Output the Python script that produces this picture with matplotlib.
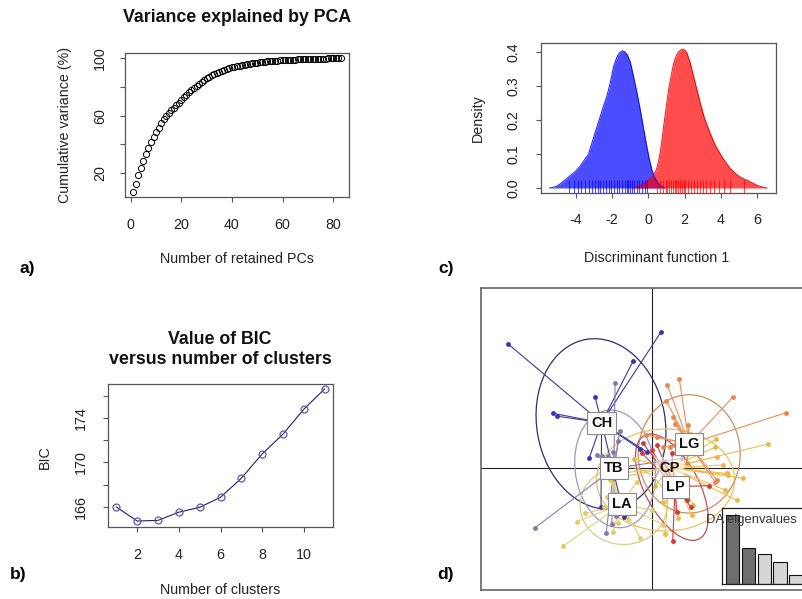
import numpy as np
import matplotlib
matplotlib.use('Agg')
import matplotlib.pyplot as plt
from matplotlib.patches import Ellipse

plt.rcParams['font.family'] = ['Liberation Sans', 'DejaVu Sans']
plt.rcParams['axes.unicode_minus'] = False

W, H = 802, 599

# ---------------- data ----------------
# a) cumulative variance explained by retained PCs
pca_cumvar = [7.1, 12.7, 18.5, 23.8, 28.6, 33.2, 37.6, 41.4, 44.9, 48.4,
              51.6, 54.6, 57.5, 60.0, 61.9, 63.8, 65.6, 67.4, 69.2, 71.0,
              72.9, 74.7, 76.4, 78.0, 79.5, 80.9, 82.3, 83.6, 84.9, 86.1,
              87.2, 88.2, 89.1, 89.9, 90.7, 91.4, 92.0, 92.6, 93.2, 93.7,
              94.1, 94.5, 94.9, 95.2, 95.5, 95.8, 96.1, 96.4, 96.7, 97.0,
              97.2, 97.4, 97.6, 97.8, 97.95, 98.1, 98.25, 98.4, 98.5, 98.6,
              98.7, 98.8, 98.9, 99.0, 99.1, 99.2, 99.3, 99.4, 99.45, 99.5,
              99.55, 99.6, 99.65, 99.7, 99.75, 99.8, 99.84, 99.88, 99.91, 99.94,
              99.96, 99.98, 100.0]
pca_n = list(range(1, len(pca_cumvar) + 1))

# b) BIC versus number of clusters
bic_k = [1, 2, 3, 4, 5, 6, 7, 8, 9, 10, 11]
bic_vals = [165.97, 164.7, 164.76, 165.5, 165.94, 166.85, 168.57, 170.77,
            172.56, 174.82, 176.66]

# c) density of discriminant function 1
blue_x = [-5.45, -5.1, -4.85, -4.6, -4.3, -4.0, -3.76, -3.5, -3.3, -3.1, -2.9,
          -2.66, -2.45, -2.29, -2.1, -1.92, -1.75, -1.6, -1.45, -1.3, -1.15,
          -1.0, -0.85, -0.65, -0.45, -0.25, -0.08, 0.05, 0.2, 0.35, 0.5, 0.7, 0.9]
blue_d = [0.0, 0.004, 0.013, 0.024, 0.037, 0.05, 0.065, 0.085, 0.10, 0.135, 0.17,
          0.21, 0.245, 0.27, 0.31, 0.357, 0.383, 0.397, 0.403, 0.400, 0.39,
          0.37, 0.335, 0.285, 0.23, 0.17, 0.12, 0.085, 0.052, 0.03, 0.016, 0.006, 0.0]
red_x = [-0.85, -0.55, -0.26, 0.0, 0.29, 0.45, 0.57, 0.7, 0.84, 0.98, 1.12, 1.26,
         1.4, 1.55, 1.67, 1.8, 1.91, 2.02, 2.13, 2.3, 2.5, 2.7, 2.87, 3.1, 3.42,
         3.7, 3.97, 4.25, 4.53, 4.8, 5.08, 5.3, 5.45, 5.7, 6.0, 6.3, 6.55]
red_d = [0.0, 0.005, 0.013, 0.022, 0.037, 0.055, 0.08, 0.12, 0.18, 0.235, 0.29, 0.33,
         0.367, 0.39, 0.40, 0.406, 0.408, 0.404, 0.396, 0.37, 0.327, 0.285, 0.249,
         0.205, 0.16, 0.125, 0.10, 0.077, 0.057, 0.043, 0.032, 0.026, 0.023, 0.016,
         0.008, 0.003, 0.0]
blue_rug = [-4.37, -4.1, -3.9, -3.7, -3.5, -3.3, -3.1, -2.95, -2.8, -2.65, -2.5,
            -2.35, -2.2, -2.05, -1.9, -1.75, -1.6, -1.45, -1.3, -1.2, -1.1, -1.0,
            -0.9, -0.78, -0.65, -0.5, -0.35, -0.2, -0.05]
red_rug = [0.5, 0.65, 0.8, 0.95, 1.05, 1.15, 1.25, 1.35, 1.45, 1.55, 1.65, 1.75,
           1.85, 1.95, 2.05, 2.2, 2.35, 2.5, 2.7, 2.85, 3.0, 3.2, 3.4, 3.6, 3.9,
           4.2, 4.5, 5.3]

# d) DAPC scatter: group points, centroids, ellipses
ch_x = [-4.79, 0.29, -0.63, -1.90, -3.29, -3.18, -2.09, -1.70, -0.40, -0.18, -0.92]
ch_y = [4.13, 4.52, 3.56, 2.38, 1.82, 1.73, 0.34, -1.29, 0.63, 0.54, -1.62]
tb_x = [-1.23, -1.07, -1.12, -1.84, -1.68, -1.46, -1.29, -3.90, -1.53, -1.34, 1.00, -1.20]
tb_y = [2.84, 1.24, 0.90, 0.43, 0.40, 0.40, 0.54, -1.99, -2.18, -1.88, 0.32, -1.60]
la_x = [-2.96, -2.51, -2.23, -0.40, -1.31, -1.12, -1.51, -0.51, 0.38, -0.01, -1.40,
        -1.29, -0.80, -1.60]
la_y = [-2.60, -1.79, -1.51, -2.32, -2.12, -1.83, -0.96, -0.46, -1.90, -1.40, -0.40,
        -0.51, -1.70, -1.30]
cp_x = [2.13, 2.10, 3.88, 2.49, 3.04, 2.82, 2.38, 2.16, 2.54, 1.38, 0.88, 1.32, 0.43,
        0.38, 2.43, -1.30, -0.60, -1.00, 0.10, 1.00]
cp_y = [0.96, 0.69, 0.80, -0.18, -0.34, -1.07, 0.10, 0.38, -0.23, -1.23, -1.68, -1.57,
        -2.21, -1.12, -0.73, -0.20, 0.30, -0.30, -0.60, -0.90]
lg_x = [0.51, 0.91, 2.71, 4.46, 0.47, 0.69, 0.77, 1.21, -0.20, 0.16, 0.60, 0.77, 2.16,
        2.10, 1.49, 1.16, 0.38]
lg_y = [2.77, 2.96, 2.38, 1.84, 2.24, 1.69, 1.47, 1.43, 1.10, 1.04, 0.71, 0.77, -0.40,
        -0.46, 0.49, 0.16, 0.71]
lp_x = [1.91, 1.16, 0.82, 0.69, -0.29, -0.33, -0.01, 0.66, 0.16, 1.30, 0.40]
lp_y = [-0.59, -1.07, -1.46, -2.43, 0.82, 0.49, 0.60, 0.49, 0.77, -1.30, 0.20]

group_names = ['CH', 'TB', 'LA', 'CP', 'LG', 'LP']
centroid_x = [-1.68, -1.27, -1.01, 0.60, 1.24, 0.77]
centroid_y = [1.51, -0.01, -1.20, 0.01, 0.80, -0.62]
ell_cx = [-1.70, -1.23, -0.95, 0.45, 1.24, 0.66]
ell_cy = [1.47, -0.03, -1.25, -0.40, 0.47, -0.64]
ell_w = [4.28, 2.66, 2.90, 4.60, 3.40, 3.90]
ell_h = [5.72, 3.94, 2.60, 3.40, 3.94, 1.80]
ell_ang = [10, 8, 0, 0, 0, -62]

da_eigen = [69, 36, 30, 22, 9]

# ---------------- styling ----------------
point_cols = ['#3636b0', '#8878a8', '#e0cc6a', '#f0b83a', '#e8884a', '#d03a3a']
line_cols = ['#3a3a98', '#8a80aa', '#e2d07a', '#f0be50', '#e89058', '#c83c3c']
ell_cols = ['#2e2e70', '#a098bc', '#d8cc90', '#e8c264', '#c8905e', '#c05050']
group_x = [ch_x, tb_x, la_x, cp_x, lg_x, lp_x]
group_y = [ch_y, tb_y, la_y, cp_y, lg_y, lp_y]

fig = plt.figure(figsize=(W / 100, H / 100), dpi=100)


def box(l, t, r, b):
    return [l / W, 1 - b / H, (r - l) / W, (b - t) / H]


def style(ax, xpad, ypad):
    for s in ax.spines.values():
        s.set_color('#555555')
        s.set_linewidth(0.9)
    ax.tick_params(direction='out', length=3.6, width=0.8, color='#555555',
                   labelsize=10.3, labelcolor='#222222')
    ax.tick_params(axis='x', pad=xpad)
    ax.tick_params(axis='y', pad=ypad, labelrotation=90)
    plt.setp(ax.get_yticklabels(), va='center')


TXT = '#222222'
TITLE_FS = 12.8

# ---- a)
ax_a = fig.add_axes(box(125, 53, 349, 197))
ax_a.plot(pca_n, pca_cumvar, 'o', mfc='none', mec='black', ms=4.4, mew=0.7)
ax_a.set_xlim(-2.28, 86.28)
ax_a.set_ylim(3.4, 103.7)
ax_a.set_xticks([0, 20, 40, 60, 80])
ax_a.set_yticks([20, 40, 60, 80, 100])
ax_a.set_yticklabels(['20', '', '60', '', '100'])
style(ax_a, 11.5, 9.5)
fig.text(237 / W, 1 - 18 / H, 'Variance explained by PCA', ha='center', va='center',
         fontsize=TITLE_FS, weight='bold', color='#111111')
fig.text(237 / W, 1 - 259 / H, 'Number of retained PCs', ha='center', va='center',
         fontsize=10.3, color=TXT)
fig.text(65 / W, 1 - 125 / H, 'Cumulative variance (%)', ha='center', va='center',
         rotation=90, fontsize=10.3, color=TXT)
fig.text(27 / W, 1 - 268 / H, 'a)', ha='center', va='center', fontsize=12.5,
         weight='bold', color='black')

# ---- b)
ax_b = fig.add_axes(box(108, 384, 333, 527))
ax_b.plot(bic_k, bic_vals, '-', color='#1f1f66', lw=0.8)
ax_b.plot(bic_k, bic_vals, 'o', mfc='none', mec='#5a5aa8', ms=5, mew=0.9)
ax_b.set_xlim(0.6, 11.4)
ax_b.set_ylim(164.16, 177.1)
ax_b.set_xticks([2, 4, 6, 8, 10])
ax_b.set_yticks([166, 168, 170, 172, 174, 176])
ax_b.set_yticklabels(['166', '', '170', '', '174', ''])
style(ax_b, 11.5, 11)
fig.text(220 / W, 1 - 339 / H, 'Value of BIC', ha='center', va='center',
         fontsize=TITLE_FS, weight='bold', color='#111111')
fig.text(220 / W, 1 - 360 / H, 'versus number of clusters', ha='center', va='center',
         fontsize=TITLE_FS, weight='bold', color='#111111')
fig.text(220 / W, 1 - 590 / H, 'Number of clusters', ha='center', va='center',
         fontsize=10.3, color=TXT)
fig.text(45 / W, 1 - 457 / H, 'BIC', ha='center', va='center', rotation=90,
         fontsize=10.3, color=TXT)
fig.text(18 / W, 1 - 575 / H, 'b)', ha='center', va='center', fontsize=12.5,
         weight='bold', color='black')

# ---- c)
ax_c = fig.add_axes(box(541, 43, 776, 193))
ax_c.fill_between(blue_x, blue_d, 0, color=(0, 0, 1, 0.7), lw=0)
ax_c.plot(blue_x, blue_d, color=(0, 0, 0.85, 0.8), lw=0.8)
ax_c.fill_between(red_x, red_d, 0, color=(1, 0, 0, 0.7), lw=0)
ax_c.plot(red_x, red_d, color=(0.85, 0, 0, 0.8), lw=0.8)
trans = ax_c.get_xaxis_transform()
ax_c.vlines(blue_rug, 0, 0.087, transform=trans, color=(0, 0, 1, 0.7), lw=0.8)
ax_c.vlines(red_rug, 0, 0.087, transform=trans, color=(1, 0, 0, 0.7), lw=0.8)
ax_c.set_xlim(-5.93, 7.05)
ax_c.set_ylim(-0.0147, 0.426)
ax_c.set_xticks([-4, -2, 0, 2, 4, 6])
ax_c.set_yticks([0.0, 0.1, 0.2, 0.3, 0.4])
ax_c.set_yticklabels(['0.0', '0.1', '0.2', '0.3', '0.4'])
style(ax_c, 11, 11.5)
fig.text(657 / W, 1 - 258 / H, 'Discriminant function 1', ha='center', va='center',
         fontsize=10.3, color=TXT)
fig.text(478 / W, 1 - 118 / H, 'Density', ha='center', va='center', rotation=90,
         fontsize=10.3, color=TXT)
fig.text(446 / W, 1 - 268 / H, 'c)', ha='center', va='center', fontsize=12.5,
         weight='bold', color='black')

# ---- d)
ax_d = fig.add_axes(box(481, 288, 840, 590))
ax_d.set_xlim((481 - 652) / 30, (840 - 652) / 30)
ax_d.set_ylim((468 - 590) / 30, (468 - 288) / 30)
ax_d.set_xticks([])
ax_d.set_yticks([])
for s in ax_d.spines.values():
    s.set_color('#666666')
    s.set_linewidth(1.2)
ax_d.axhline(0, color='#222222', lw=0.8, zorder=1)
ax_d.axvline(0, color='#222222', lw=0.8, zorder=1)
for i in range(len(group_names)):
    ax_d.add_patch(Ellipse((ell_cx[i], ell_cy[i]), ell_w[i], ell_h[i], angle=ell_ang[i],
                           fill=False, ec=ell_cols[i], lw=0.9, zorder=2))
for i in range(len(group_names)):
    cx, cy = centroid_x[i], centroid_y[i]
    for px, py in zip(group_x[i], group_y[i]):
        ax_d.plot([cx, px], [cy, py], color=line_cols[i], lw=0.8, zorder=3)
for i in range(len(group_names)):
    ax_d.plot(group_x[i], group_y[i], 'o', color=point_cols[i], ms=3.5, mew=0, zorder=4)
for i, name in enumerate(group_names):
    if name == 'CP':
        bb = dict(boxstyle='square,pad=0.25', fc=(1, 1, 1, 0.55), ec='none')
    else:
        bb = dict(boxstyle='square,pad=0.28', fc='white', ec='#8a8a8a', lw=0.8)
    ax_d.text(centroid_x[i], centroid_y[i], name, ha='center', va='center',
              fontsize=10.5, weight='bold', color='#111111', bbox=bb, zorder=6)
fig.text(446 / W, 1 - 575 / H, 'd)', ha='center', va='center', fontsize=12.5,
         weight='bold', color='black')

# inset eigenvalues
ax_in = fig.add_axes(box(722, 508, 832, 584))
ax_in.set_zorder(5)
ax_in.bar(range(1, len(da_eigen) + 1), da_eigen, width=0.85,
          color=['#6e6e6e', '#6e6e6e', '#d6d6d6', '#d6d6d6', '#d6d6d6'],
          edgecolor='#111111', lw=0.8)
ax_in.set_xlim(0.34, 0.34 + 110 / 15.9)
ax_in.set_ylim(0, 76)
ax_in.set_xticks([])
ax_in.set_yticks([])
for s in ax_in.spines.values():
    s.set_color('#222222')
    s.set_linewidth(0.9)
fig.text(706 / W, 1 - 520 / H, 'DA eigenvalues', ha='left', va='center',
         fontsize=9.4, color='#333333', zorder=10)

fig.savefig('out.png', dpi=100)
